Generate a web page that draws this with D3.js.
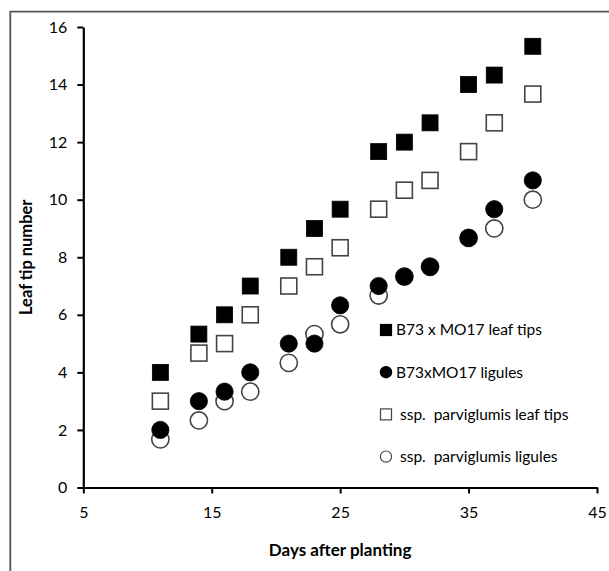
<!DOCTYPE html>
<html>
<head>
<meta charset="utf-8">
<script src="https://cdn.jsdelivr.net/npm/d3@7"></script>
<style>
  body { margin: 0; background: #fff; }
  svg text { font-family: Lato, "Open Sans", sans-serif; fill: #000; }
</style>
</head>
<body>
<div id="chart"></div>
<script>
// days after planting
const days = [11, 14, 16, 18, 21, 23, 25, 28, 30, 32, 35, 37, 40];

// leaf tips / ligules
const b73Tips = [4, 5.33, 6, 7, 8, 9, 9.67, 11.67, 12, 12.67, 14, 14.33, 15.33];
const b73Ligules = [2, 3, 3.33, 4, 5, 5, 6.33, 7, 7.33, 7.67, 8.67, 9.67, 10.67];
const parvTips = [3, 4.67, 5, 6, 7, 7.67, 8.33, 9.67, 10.33, 10.67, 11.67, 12.67, 13.67];
const parvLigules = [1.67, 2.33, 3, 3.33, 4.33, 5.33, 5.67, 6.67, 7.33, 7.67, 8.67, 9, 10];

const xTicks = [5, 15, 25, 35, 45];
const yTicks = [0, 2, 4, 6, 8, 10, 12, 14, 16];

const legendLabels = [
    "B73 x MO17 leaf tips",
    "B73xMO17 ligules",
    " ssp.  parviglumis leaf tips",
    " ssp.  parviglumis ligules"
];

const W = 609, H = 571;
const margin = { top: 27, right: 12, bottom: 83.5, left: 83.3 };
const width = W - margin.left - margin.right;
const height = H - margin.top - margin.bottom;

const svg = d3.select("#chart").append("svg")
    .attr("width", W)
    .attr("height", H);

// outer frame (only left and top edges are inside the picture)
svg.append("path")
    .attr("d", `M10.3,${H} V11.7 H${W}`)
    .attr("fill", "none")
    .attr("stroke", "#555")
    .attr("stroke-width", 1.8);

const g = svg.append("g")
    .attr("transform", `translate(${margin.left},${margin.top})`);

const x = d3.scaleLinear().domain([5, 45]).range([0, width]);
const y = d3.scaleLinear().domain([0, 16]).range([height, 0]);

// axes
const xAxis = g.append("g")
    .attr("transform", `translate(0,${height})`)
    .call(d3.axisBottom(x).tickValues(xTicks).tickSize(6).tickSizeOuter(0).tickPadding(13));

const yAxis = g.append("g")
    .call(d3.axisLeft(y).tickValues(yTicks).tickSize(6).tickSizeOuter(0).tickPadding(10));

[xAxis, yAxis].forEach(a => {
    a.select(".domain").attr("stroke", "#000").attr("stroke-width", 2.2);
    a.selectAll(".tick line").attr("stroke", "#000").attr("stroke-width", 2);
    a.selectAll(".tick text").style("font-size", "16px").attr("fill", "#000");
});

// axis titles
g.append("text")
    .attr("x", width / 2)
    .attr("y", height + 68)
    .attr("text-anchor", "middle")
    .style("font-size", "17px")
    .style("font-weight", "bold")
    .text("Days after planting");

svg.append("text")
    .attr("transform", `translate(32,${margin.top + height / 2}) rotate(-90)`)
    .attr("text-anchor", "middle")
    .style("font-size", "16.5px")
    .style("font-weight", "bold")
    .text("Leaf tip number");

const sq = 16, r = 8.6;

function drawSquares(vals, fill) {
    g.append("g").selectAll("rect")
        .data(days.map((d, i) => [d, vals[i]]))
        .join("rect")
        .attr("x", d => x(d[0]) - sq / 2)
        .attr("y", d => y(d[1]) - sq / 2)
        .attr("width", sq)
        .attr("height", sq)
        .attr("fill", fill)
        .attr("stroke", fill === "#000" ? "#000" : "#444")
        .attr("stroke-width", fill === "#000" ? 0.8 : 1.6);
}

function drawCircles(vals, fill) {
    g.append("g").selectAll("circle")
        .data(days.map((d, i) => [d, vals[i]]))
        .join("circle")
        .attr("cx", d => x(d[0]))
        .attr("cy", d => y(d[1]))
        .attr("r", r)
        .attr("fill", fill)
        .attr("stroke", fill === "#000" ? "#000" : "#444")
        .attr("stroke-width", fill === "#000" ? 0.8 : 1.6);
}

drawSquares(parvTips, "#fff");
drawCircles(parvLigules, "#fff");
drawSquares(b73Tips, "#000");
drawCircles(b73Ligules, "#000");

// legend
const legend = svg.append("g").attr("transform", "translate(386,330)");
const kinds = [
    { shape: "square", fill: "#000" },
    { shape: "circle", fill: "#000" },
    { shape: "square", fill: "#fff" },
    { shape: "circle", fill: "#fff" }
];

legendLabels.forEach((label, i) => {
    const row = legend.append("g").attr("transform", `translate(0,${i * 42.2})`);
    const k = kinds[i];
    const stroke = k.fill === "#000" ? "#000" : "#444";
    if (k.shape === "square") {
        row.append("rect")
            .attr("x", -5.5).attr("y", -5.5)
            .attr("width", 11).attr("height", 11)
            .attr("fill", k.fill).attr("stroke", stroke).attr("stroke-width", 1.2);
    } else {
        row.append("circle")
            .attr("r", 5.6)
            .attr("fill", k.fill).attr("stroke", stroke).attr("stroke-width", 1.2);
    }
    row.append("text")
        .attr("x", 10)
        .attr("dy", "0.35em")
        .style("font-size", "15.5px")
        .style("white-space", "pre")
        .text(label);
});
</script>
</body>
</html>
